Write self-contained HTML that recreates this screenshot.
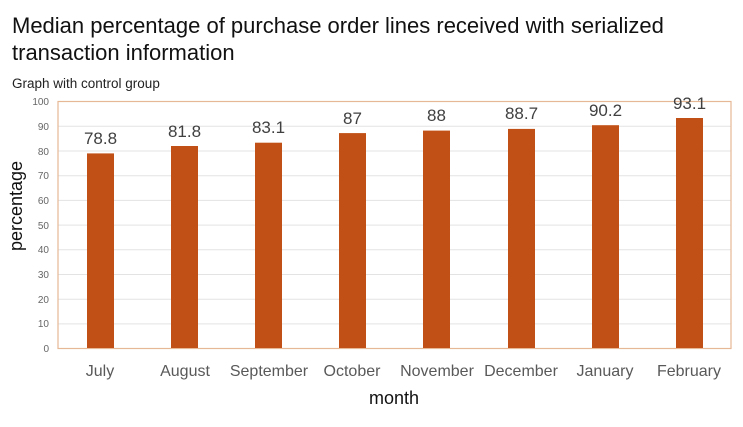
<!DOCTYPE html><html><head><style>body{margin:0;background:#fff;font-family:"Liberation Sans",sans-serif}</style></head><body>
<svg width="743" height="422" xmlns="http://www.w3.org/2000/svg" font-family="Liberation Sans, sans-serif">
<text x="12" y="33" font-size="22" fill="#111">Median percentage of purchase order lines received with serialized</text>
<text x="12" y="60" font-size="22" fill="#111">transaction information</text>
<text x="12" y="88" font-size="13.5" fill="#222">Graph with control group</text>
<g stroke="#e3e3e3" stroke-width="1">
<line x1="58" x2="731" y1="126.3" y2="126.3"/><line x1="58" x2="731" y1="151" y2="151"/><line x1="58" x2="731" y1="175.7" y2="175.7"/><line x1="58" x2="731" y1="200.4" y2="200.4"/><line x1="58" x2="731" y1="225.1" y2="225.1"/><line x1="58" x2="731" y1="249.8" y2="249.8"/><line x1="58" x2="731" y1="274.5" y2="274.5"/><line x1="58" x2="731" y1="299.2" y2="299.2"/><line x1="58" x2="731" y1="323.9" y2="323.9"/>
</g>
<rect x="58" y="101.5" width="673" height="247" fill="none" stroke="#e6b896" stroke-width="1.2"/>
<g font-size="10" fill="#666" text-anchor="end">
<text x="49" y="105">100</text><text x="49" y="130">90</text><text x="49" y="155">80</text><text x="49" y="179">70</text><text x="49" y="204">60</text><text x="49" y="229">50</text><text x="49" y="253">40</text><text x="49" y="278">30</text><text x="49" y="303">20</text><text x="49" y="327">10</text><text x="49" y="352">0</text>
</g>
<g fill="#c05015">
<rect x="87" y="153.4" width="27" height="194.6"/>
<rect x="171" y="146" width="27" height="202"/>
<rect x="255" y="142.7" width="27" height="205.3"/>
<rect x="339" y="133.1" width="27" height="214.9"/>
<rect x="423" y="130.6" width="27" height="217.4"/>
<rect x="508" y="128.9" width="27" height="219.1"/>
<rect x="592" y="125.2" width="27" height="222.8"/>
<rect x="676" y="118" width="27" height="230"/>
</g>
<g font-size="17" fill="#404040" text-anchor="middle">
<text x="100.5" y="144">78.8</text><text x="184.5" y="137">81.8</text><text x="268.5" y="133">83.1</text><text x="352.5" y="124">87</text><text x="436.5" y="121">88</text><text x="521.5" y="119">88.7</text><text x="605.5" y="116">90.2</text><text x="689.5" y="109">93.1</text>
</g>
<g font-size="16" fill="#595959" text-anchor="middle">
<text x="100" y="376">July</text><text x="185" y="376">August</text><text x="269" y="376">September</text><text x="352" y="376">October</text><text x="437" y="376">November</text><text x="521" y="376">December</text><text x="605" y="376">January</text><text x="689" y="376">February</text>
</g>
<text x="394" y="404" font-size="18" fill="#111" text-anchor="middle">month</text>
<text transform="translate(22,206) rotate(-90)" font-size="18" fill="#111" text-anchor="middle">percentage</text>
</svg></body></html>
